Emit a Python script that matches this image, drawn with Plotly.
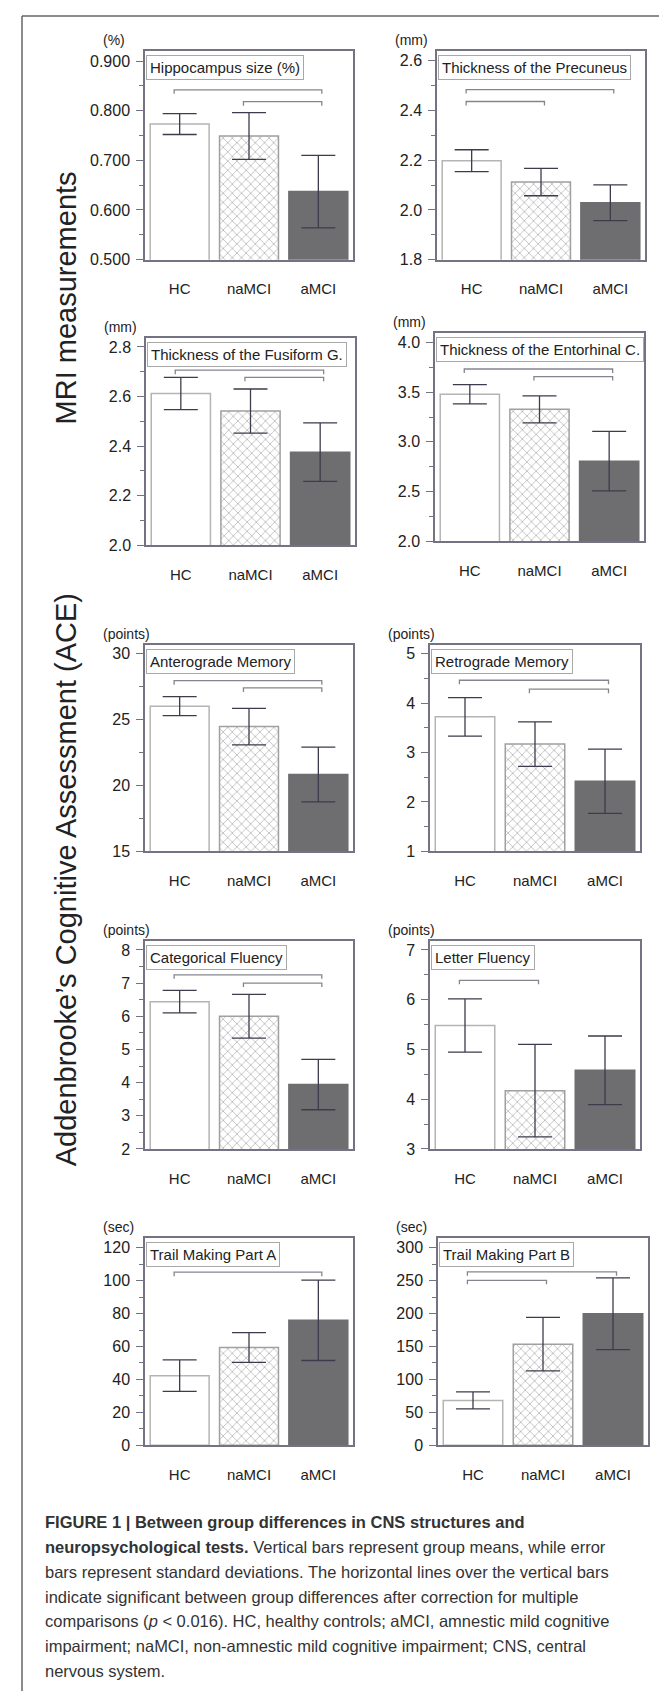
import plotly.graph_objects as go

W, H = 667, 1692

# ---------------- data ----------------
categories = ["HC", "naMCI", "aMCI"]

titles = ["Hippocampus size (%)", "Thickness of the Precuneus",
          "Thickness of the Fusiform G.", "Thickness of the Entorhinal C.",
          "Anterograde Memory", "Retrograde Memory",
          "Categorical Fluency", "Letter Fluency",
          "Trail Making Part A", "Trail Making Part B"]
units = ["(%)", "(mm)", "(mm)", "(mm)", "(points)", "(points)",
         "(points)", "(points)", "(sec)", "(sec)"]

hippocampus_mean = [0.773, 0.749, 0.637]
hippocampus_sd = [0.021, 0.047, 0.073]
precuneus_mean = [2.198, 2.112, 2.029]
precuneus_sd = [0.044, 0.055, 0.072]
fusiform_mean = [2.612, 2.541, 2.375]
fusiform_sd = [0.065, 0.089, 0.118]
entorhinal_mean = [3.479, 3.328, 2.806]
entorhinal_sd = [0.097, 0.136, 0.300]
anterograde_mean = [25.99, 24.45, 20.82]
anterograde_sd = [0.72, 1.38, 2.07]
retrograde_mean = [3.72, 3.17, 2.42]
retrograde_sd = [0.39, 0.45, 0.65]
categorical_mean = [6.44, 6.00, 3.94]
categorical_sd = [0.34, 0.66, 0.76]
letter_mean = [5.48, 4.17, 4.58]
letter_sd = [0.535, 0.93, 0.69]
trail_a_mean = [42.3, 59.4, 75.9]
trail_a_sd = [9.6, 9.0, 24.4]
trail_b_mean = [68.2, 153.5, 199.6]
trail_b_sd = [13.0, 40.6, 54.4]

# significance brackets: (group i, group j, level)
hippocampus_sig = [(0, 2, 0.842), (1, 2, 0.818)]
precuneus_sig = [(0, 2, 2.484), (0, 1, 2.436)]
fusiform_sig = [(0, 2, 2.706), (1, 2, 2.677)]
entorhinal_sig = [(0, 2, 3.734), (1, 2, 3.657)]
anterograde_sig = [(0, 2, 27.92), (1, 2, 27.37)]
retrograde_sig = [(0, 2, 4.46), (1, 2, 4.28)]
categorical_sig = [(0, 2, 7.25), (1, 2, 7.0)]
letter_sig = [(0, 1, 6.39)]
trail_a_sig = [(0, 2, 105.1)]
trail_b_sig = [(0, 2, 263.3), (0, 1, 250.3)]

# y axis: (min, max, major step, minor step, tick format)
y_axes = [(0.5, 0.9206, 0.1, 0.05, ".3f"), (1.8, 2.64, 0.2, 0.1, ".1f"),
          (2.0, 2.835, 0.2, 0.1, ".1f"), (2.0, 4.094, 0.5, 0.25, ".1f"),
          (15, 30.65, 5, 2.5, "d"), (1, 5.18, 1, 0.5, "d"),
          (2, 8.27, 1, 0.5, "d"), (3, 7.18, 1, 0.5, "d"),
          (0, 125.6, 20, 10, "d"), (0, 314, 50, 25, "d")]

means = [hippocampus_mean, precuneus_mean, fusiform_mean, entorhinal_mean,
         anterograde_mean, retrograde_mean, categorical_mean, letter_mean,
         trail_a_mean, trail_b_mean]
sds = [hippocampus_sd, precuneus_sd, fusiform_sd, entorhinal_sd,
       anterograde_sd, retrograde_sd, categorical_sd, letter_sd,
       trail_a_sd, trail_b_sd]
sigs = [hippocampus_sig, precuneus_sig, fusiform_sig, entorhinal_sig,
        anterograde_sig, retrograde_sig, categorical_sig, letter_sig,
        trail_a_sig, trail_b_sig]

# ---------------- layout geometry (pixels: left, right, top, bottom) ----------------
panels = [(137, 345, 43, 253), (429, 637, 43, 253),
          (138, 347, 332, 540), (427, 636, 327, 536),
          (137, 345, 640, 848), (422, 632, 640, 848),
          (137, 345, 938, 1147), (422, 632, 938, 1147),
          (137, 345, 1237, 1445), (430, 640, 1237, 1445)]

FONT = "Liberation Sans, Arial, Helvetica, sans-serif"
AXIS_COL = "#737384"
TXT = "#222222"
DARK = "#6e6e71"

fig = go.Figure()
layout = dict(width=W, height=H, margin=dict(l=0, r=0, t=0, b=0),
              paper_bgcolor="white", plot_bgcolor="white", showlegend=False,
              font=dict(family=FONT, color=TXT))
annotations = []
shapes = []

xs = [0, 1, 2]
for k in range(10):
    n = "" if k == 0 else str(k + 1)
    L, R, T, B = panels[k]
    ymin, ymax, dt, mdt, fmt = y_axes[k]
    ph = B - T
    upp = (ymax - ymin) / ph

    fig.add_trace(go.Bar(
        x=xs, y=means[k], width=0.85, xaxis="x" + n, yaxis="y" + n,
        marker=dict(color=["white", "white", DARK],
                    line=dict(color=["#b4b4b4", "#a0a0a0", DARK], width=1.5),
                    pattern=dict(shape=["", "x", ""], fgcolor="#6c6c74",
                                 bgcolor="white", size=6.5, solidity=0.18)),
        error_y=dict(type="data", array=sds[k], color="#3c3c4c",
                     thickness=1.3, width=17),
        hoverinfo="skip"))

    d = 4 * upp
    for (i, j, lvl) in sigs[k]:
        x0, x1 = i - 0.08, j + 0.05
        fig.add_trace(go.Scatter(
            x=[x0, x0, x1, x1], y=[lvl - d, lvl, lvl, lvl - d],
            mode="lines", line=dict(color="#858590", width=1.3),
            xaxis="x" + n, yaxis="y" + n, hoverinfo="skip"))

    layout["xaxis" + n] = dict(
        domain=[L / W, R / W], anchor="y" + n, range=[-0.5, 2.5],
        tickvals=xs, ticktext=categories, ticks="", showgrid=False,
        zeroline=False, showline=True, mirror=True, linecolor=AXIS_COL,
        linewidth=1.5, tickfont=dict(size=15, color=TXT),
        ticklabelstandoff=15)
    layout["yaxis" + n] = dict(
        domain=[1 - B / H, 1 - T / H], anchor="x" + n, range=[ymin, ymax],
        tick0=ymin, dtick=dt, tickformat=fmt, ticks="outside", ticklen=7,
        tickwidth=1.2, tickcolor=AXIS_COL, showgrid=False, zeroline=False,
        showline=True, mirror=True, linecolor=AXIS_COL, linewidth=1.5,
        tickfont=dict(size=16, color=TXT), ticklabelstandoff=3,
        minor=dict(dtick=mdt, tick0=ymin, ticks="outside", ticklen=4,
                   tickwidth=1, tickcolor=AXIS_COL))

    # title box
    annotations.append(dict(
        text=titles[k], xref="x" + n + " domain", yref="y" + n + " domain",
        x=0.004, y=1 - 4 / ph, xanchor="left", yanchor="top", showarrow=False,
        font=dict(size=15, color=TXT), bgcolor="white", bordercolor="#a8a8a8",
        borderwidth=1, borderpad=3))
    # unit label
    annotations.append(dict(
        text=units[k], xref="paper", yref="paper", x=(L - 44) / W,
        y=1 - (T - 11) / H, xanchor="left", yanchor="middle", showarrow=False,
        font=dict(size=14, color=TXT)))

# big row labels
annotations.append(dict(text="MRI measurements", xref="paper", yref="paper",
                        x=58 / W, y=1 - 292 / H, textangle=-90, showarrow=False,
                        xanchor="center", yanchor="middle",
                        font=dict(size=29, color=TXT)))
annotations.append(dict(text="Addenbrooke\u2019s Cognitive Assessment (ACE)",
                        xref="paper", yref="paper", x=58 / W, y=1 - 877 / H,
                        textangle=-90, showarrow=False, xanchor="center",
                        yanchor="middle", font=dict(size=29, color=TXT)))

# caption
caption_lines = [
    "<b>FIGURE 1 | Between group differences in CNS structures and</b>",
    "<b>neuropsychological tests.</b> Vertical bars represent group means, while error",
    "bars represent standard deviations. The horizontal lines over the vertical bars",
    "indicate significant between group differences after correction for multiple",
    "comparisons (<i>p</i> &lt; 0.016). HC, healthy controls; aMCI, amnestic mild cognitive",
    "impairment; naMCI, non-amnestic mild cognitive impairment; CNS, central",
    "nervous system.",
]
for li, line in enumerate(caption_lines):
    annotations.append(dict(text=line, xref="paper", yref="paper",
                            x=35 / W, y=1 - (1522 + 25 * li) / H,
                            xanchor="left", yanchor="middle", showarrow=False,
                            font=dict(size=16.5, color="#333333")))

# outer frame (top and left edges)
shapes.append(dict(type="line", xref="paper", yref="paper", x0=14 / W, x1=1,
                   y0=1 - 8 / H, y1=1 - 8 / H, line=dict(color="#666666", width=1.5)))
shapes.append(dict(type="line", xref="paper", yref="paper", x0=14 / W, x1=14 / W,
                   y0=1 - 8 / H, y1=0, line=dict(color="#666666", width=1.5)))

layout["annotations"] = annotations
layout["shapes"] = shapes
fig.update_layout(**layout)
fig.write_html("out.html")
